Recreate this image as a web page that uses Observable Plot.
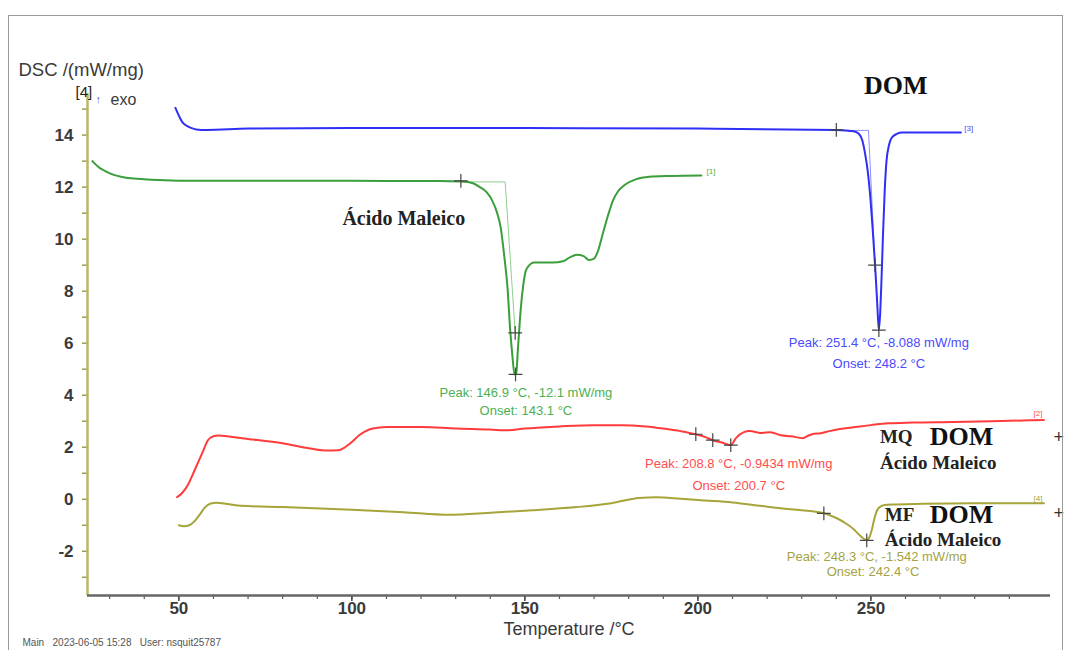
<!DOCTYPE html>
<html>
<head>
<meta charset="utf-8">
<script src="https://cdn.jsdelivr.net/npm/d3@7"></script>
<script src="https://cdn.jsdelivr.net/npm/@observablehq/plot@0.6"></script>
<style>
  html, body { margin: 0; padding: 0; background: #fff; }
  #wrap { position: relative; width: 1065px; height: 650px; overflow: hidden; }
  #frame { position: absolute; left: 8px; top: 15px; width: 1053px; height: 640px;
           border-left: 1px solid #9a9a9a; border-top: 1px solid #9a9a9a; border-right: 1px solid #9a9a9a;
           pointer-events: none; }
  svg { display: block; }
</style>
</head>
<body>
<div id="wrap"><div id="frame"></div></div>
<script>
// ---- data ----
const yTickValues = [-2, 0, 2, 4, 6, 8, 10, 12, 14];
const yMinorTicks = [-3, -2, -1, 0, 1, 2, 3, 4, 5, 6, 7, 8, 9, 10, 11, 12, 13, 14, 15];
const xTickValues = [50, 100, 150, 200, 250];
const xMinorTicks = [30, 40, 50, 60, 70, 80, 90, 100, 110, 120, 130, 140, 150, 160, 170, 180, 190, 200, 210, 220, 230, 240, 250, 260, 270, 280, 290];

// [3] DOM (blue)
const domT = [49, 50, 51, 52, 53.5, 55, 58, 70, 100, 150, 200, 240, 245, 246.5, 247.5, 248.3, 249.1, 249.9, 250.6, 251.2, 251.8, 252.3, 252.7, 253.1, 253.5, 254.0, 254.5, 255.2, 256, 257.5, 259, 265, 276];
const domV = [15.05, 14.75, 14.5, 14.38, 14.28, 14.22, 14.2, 14.25, 14.27, 14.27, 14.25, 14.2, 14.15, 14.05, 13.8, 13.3, 12.6, 11.5, 10.2, 9.0, 7.6, 6.5, 7.2, 8.6, 10.2, 11.9, 13.0, 13.6, 13.9, 14.05, 14.1, 14.1, 14.1];

// [1] Ácido Maleico (green)
const acidT = [25, 27, 29, 31, 34, 38, 42, 50, 70, 90, 110, 125, 132, 135, 137, 139, 140.5, 142, 143, 144, 145, 145.7, 146.4, 147, 147.5, 148, 148.8, 149.5, 150.3, 151.3, 152.6, 155, 158, 161, 163, 165, 167, 168.5, 170, 171, 172.5, 174, 175.5, 177, 179, 182, 186, 192, 201];
const acidV = [13.0, 12.75, 12.6, 12.48, 12.38, 12.32, 12.28, 12.25, 12.25, 12.25, 12.24, 12.24, 12.22, 12.15, 12.0, 11.8, 11.5, 11.0, 10.45, 9.4, 8.1, 6.6, 5.5, 4.8, 4.85, 5.8, 7.3, 8.2, 8.8, 9.0, 9.1, 9.1, 9.1, 9.15, 9.3, 9.4, 9.35, 9.2, 9.25, 9.5, 10.2, 10.9, 11.5, 11.85, 12.1, 12.3, 12.4, 12.43, 12.45];

// [2] MQ (red)
const mqT = [49.5, 51, 52.6, 54, 55.5, 57, 58.4, 60, 61.5, 65, 70, 80, 88, 93, 96, 98, 100, 102, 104, 106, 110, 120, 130, 140, 145, 150, 160, 170, 178, 185, 190, 195, 199.4, 202, 204.3, 207, 209.5, 211, 213.3, 215, 218.2, 221, 224, 227, 230.3, 232, 233.5, 235.5, 238, 241, 245, 250, 255, 262, 274, 285, 300];
const mqV = [0.08, 0.25, 0.55, 0.95, 1.4, 1.85, 2.27, 2.42, 2.45, 2.4, 2.32, 2.15, 1.95, 1.87, 1.88, 2.0, 2.2, 2.45, 2.62, 2.72, 2.78, 2.78, 2.72, 2.68, 2.65, 2.72, 2.8, 2.85, 2.85, 2.8, 2.72, 2.62, 2.5, 2.4, 2.27, 2.18, 2.08, 2.35, 2.58, 2.62, 2.55, 2.58, 2.46, 2.42, 2.35, 2.45, 2.52, 2.54, 2.62, 2.7, 2.77, 2.85, 2.92, 2.95, 2.97, 3.0, 3.05];

// [4] MF (olive)
const mfT = [50, 51.5, 53, 54.5, 56, 57.5, 59, 61, 64, 68, 80, 100, 115, 128, 140, 152, 165, 175, 183, 188, 195, 201, 210, 218, 224, 230, 236.4, 240, 243, 245, 246.5, 248, 248.8, 249.6, 250.3, 251, 251.8, 253, 254, 257, 265, 280, 300];
const mfV = [-1.0, -1.04, -1.0, -0.85, -0.6, -0.32, -0.17, -0.13, -0.18, -0.25, -0.3, -0.4, -0.5, -0.6, -0.52, -0.42, -0.3, -0.15, 0.05, 0.08, 0.02, -0.04, -0.12, -0.25, -0.35, -0.42, -0.54, -0.72, -0.95, -1.15, -1.35, -1.52, -1.58, -1.45, -1.15, -0.75, -0.42, -0.26, -0.22, -0.2, -0.17, -0.15, -0.15];

// evaluation markers (+)
const markT = [131.5, 147.2, 147.3, 240, 251.2, 252.3, 199.4, 204.3, 209.5, 236.4, 248.8];
const markV = [12.24, 6.4, 4.8, 14.2, 9.0, 6.5, 2.5, 2.27, 2.08, -0.54, -1.58];

// tangent construction lines
const acidTanT = [131.5, 144.3, 147.2];
const acidTanV = [12.2, 12.2, 6.4];
const domTanT = [240, 249.3, 251.2];
const domTanV = [14.18, 14.18, 9.0];

// ---- build tables ----
const zip = (t, v) => t.map((x, i) => ({T: x, V: v[i]}));
const dom = zip(domT, domV), acid = zip(acidT, acidV), mq = zip(mqT, mqV), mf = zip(mfT, mfV);
const marks = zip(markT, markV);
const acidTan = zip(acidTanT, acidTanV), domTan = zip(domTanT, domTanV);

const BLUE = "#2f2ff5", GREEN = "#3a9e3a", RED = "#ff3b3b", OLIVE = "#a5a53a";
const BLUE_T = "#4a4aff", GREEN_T = "#4caf50", RED_T = "#ff4d4d", OLIVE_T = "#a3a345";
const AXIS_Y = "#b8b868";
const SANS = "Liberation Sans, Arial, sans-serif";
const SERIF = "Liberation Serif, Times New Roman, serif";
const X0 = 23.6, Y0 = -3.7;
const plain = d => String(d);

const txt = (s, x, y, o) => Plot.text([s], {x: () => x, y: () => y, text: d => d, ...o});

const chart = Plot.plot({
  width: 1065, height: 650,
  marginLeft: 87, marginRight: 15, marginTop: 93, marginBottom: 55,
  x: {domain: [X0, 301.9]},
  y: {domain: [Y0, 15.6]},
  style: {fontFamily: SANS, background: "transparent", overflow: "visible"},
  marks: [
    // axes
    Plot.axisY(yMinorTicks, {tickSize: 5, stroke: "#9e9e50", strokeWidth: 1.5, fill: "none", label: null}),
    Plot.axisY(yTickValues, {tickSize: 0, tickPadding: 14, fontSize: 17, fill: "#3a3a3a", fontWeight: 600, label: null, tickFormat: plain}),
    Plot.axisX(xMinorTicks, {tickSize: 4, stroke: "#555", strokeWidth: 1.2, fill: "none", label: null}),
    Plot.axisX(xTickValues, {tickSize: 6, stroke: "#444", strokeWidth: 1.5, fill: "none", label: null}),
    Plot.axisX(xTickValues, {tickSize: 0, tickPadding: 6, fontSize: 17, fill: "#3a3a3a", fontWeight: 600, label: null, tickFormat: plain}),
    Plot.ruleX([X0], {stroke: AXIS_Y, strokeWidth: 2.5}),
    Plot.ruleY([Y0], {stroke: "#666", strokeWidth: 2.5}),

    // tangent lines
    Plot.line(acidTan, {x: "T", y: "V", stroke: "#8fcf8f", strokeWidth: 1}),
    Plot.line(domTan, {x: "T", y: "V", stroke: "#8f8fff", strokeWidth: 1}),

    // curves
    Plot.line(dom, {x: "T", y: "V", stroke: BLUE, strokeWidth: 2, curve: "monotone-x"}),
    Plot.line(acid, {x: "T", y: "V", stroke: GREEN, strokeWidth: 2, curve: "monotone-x"}),
    Plot.line(mq, {x: "T", y: "V", stroke: RED, strokeWidth: 2, curve: "monotone-x"}),
    Plot.line(mf, {x: "T", y: "V", stroke: OLIVE, strokeWidth: 2, curve: "monotone-x"}),

    // markers
    Plot.dot(marks, {x: "T", y: "V", symbol: "plus", r: 4.5, stroke: "#444", strokeWidth: 1.2}),

    // curve numbers
    txt("[1]", 202.5, 12.6, {fill: GREEN_T, fontSize: 8, textAnchor: "start"}),
    txt("[3]", 277, 14.25, {fill: BLUE_T, fontSize: 8, textAnchor: "start"}),
    txt("[2]", 297, 3.3, {fill: RED_T, fontSize: 8, textAnchor: "start"}),
    txt("[4]", 297, 0.05, {fill: OLIVE_T, fontSize: 8, textAnchor: "start"}),

    // peak / onset annotations
    txt("Peak: 251.4 °C, -8.088 mW/mg", 252.3, 6.0, {fill: BLUE_T, fontSize: 13}),
    txt("Onset: 248.2 °C", 252.3, 5.2, {fill: BLUE_T, fontSize: 13}),
    txt("Peak: 146.9 °C, -12.1 mW/mg", 150.3, 4.1, {fill: GREEN_T, fontSize: 13}),
    txt("Onset: 143.1 °C", 150.3, 3.4, {fill: GREEN_T, fontSize: 13}),
    txt("Peak: 208.8 °C, -0.9434 mW/mg", 211.8, 1.38, {fill: RED_T, fontSize: 13}),
    txt("Onset: 200.7 °C", 211.8, 0.5, {fill: RED_T, fontSize: 13}),
    txt("Peak: 248.3 °C, -1.542 mW/mg", 251.7, -2.2, {fill: OLIVE_T, fontSize: 13}),
    txt("Onset: 242.4 °C", 250.6, -2.78, {fill: OLIVE_T, fontSize: 13}),

    // sample names
    txt("DOM", 257.2, 15.9, {fontFamily: SERIF, fontWeight: "bold", fontSize: 26, fill: "#111"}),
    txt("Ácido Maleico", 115, 10.8, {fontFamily: SERIF, fontWeight: "bold", fontSize: 20, fill: "#222"}),
    txt("MQ", 252.6, 2.38, {fontFamily: SERIF, fontWeight: "bold", fontSize: 19, fill: "#222", textAnchor: "start"}),
    txt("DOM", 267, 2.42, {fontFamily: SERIF, fontWeight: "bold", fontSize: 26, fill: "#111", textAnchor: "start"}),
    txt("Ácido Maleico", 252.6, 1.4, {fontFamily: SERIF, fontWeight: "bold", fontSize: 19, fill: "#222", textAnchor: "start"}),
    txt("MF", 254, -0.62, {fontFamily: SERIF, fontWeight: "bold", fontSize: 19, fill: "#222", textAnchor: "start"}),
    txt("DOM", 267, -0.58, {fontFamily: SERIF, fontWeight: "bold", fontSize: 26, fill: "#111", textAnchor: "start"}),
    txt("Ácido Maleico", 254, -1.55, {fontFamily: SERIF, fontWeight: "bold", fontSize: 19, fill: "#222", textAnchor: "start"}),
    txt("+", 304.3, 2.38, {fontSize: 18, fill: "#333"}),
    txt("+", 304.3, -0.54, {fontSize: 18, fill: "#333"}),

    // axis titles and header
    Plot.text(["DSC /(mW/mg)"], {frameAnchor: "top-left", dx: -69, dy: -31, textAnchor: "start", fontSize: 18.5, fill: "#3a3a3a"}),
    Plot.text(["[4]"], {frameAnchor: "top-left", dx: -12, dy: -7, textAnchor: "start", fontSize: 15, fill: "#222"}),
    Plot.text(["↑"], {frameAnchor: "top-left", dx: 8, dy: 2, textAnchor: "start", fontSize: 11, fill: "#5555cc"}),
    Plot.text(["exo"], {frameAnchor: "top-left", dx: 23, dy: 0, textAnchor: "start", fontSize: 16, fill: "#3a3a3a"}),
    Plot.text(["Temperature /°C"], {frameAnchor: "bottom", dy: 39, fontSize: 18, fill: "#3a3a3a"}),
    Plot.text(["Main   2023-06-05 15:28   User: nsquit25787"], {frameAnchor: "bottom-left", dx: -65, dy: 50, textAnchor: "start", fontSize: 10, fill: "#555"})
  ]
});
document.getElementById("wrap").prepend(chart);
</script>
</body>
</html>
